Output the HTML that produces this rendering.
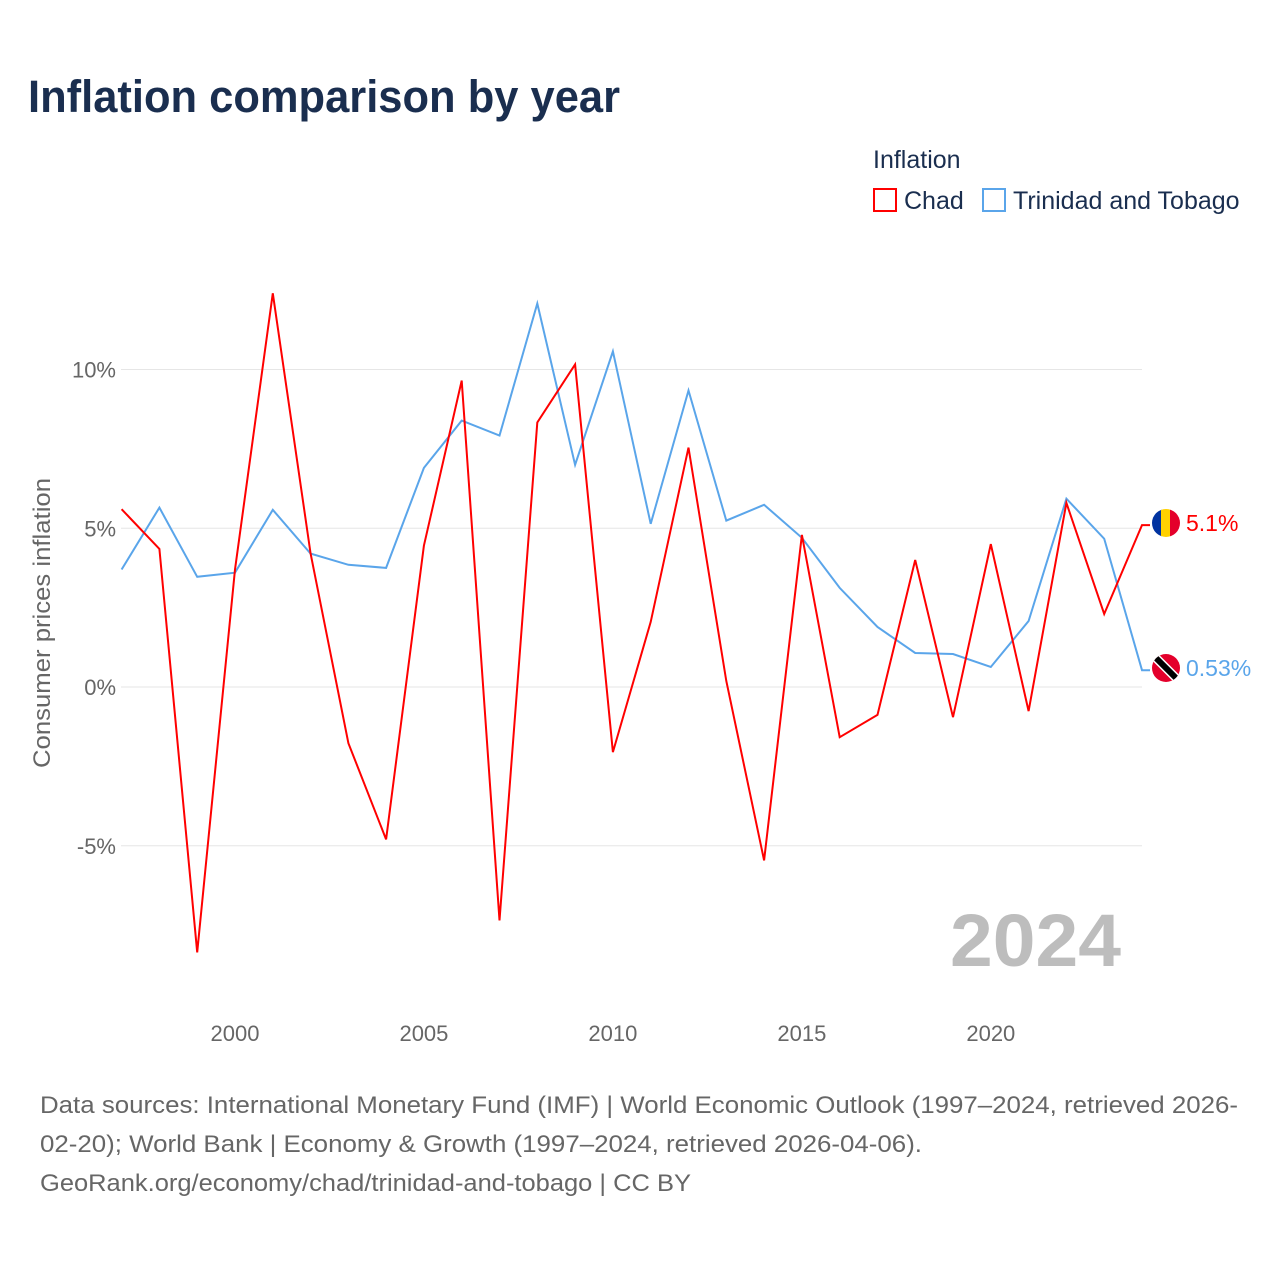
<!DOCTYPE html>
<html><head><meta charset="utf-8"><style>
body{margin:0;background:#fff;font-family:"Liberation Sans",sans-serif;}
svg text{font-family:"Liberation Sans",sans-serif;}
</style></head><body>
<svg width="1280" height="1280" viewBox="0 0 1280 1280" id="chart">
<rect width="1280" height="1280" fill="#fff"/>
<text x="28" y="112" font-size="45" font-weight="bold" fill="#1a2e4f" textLength="592" lengthAdjust="spacingAndGlyphs">Inflation comparison by year</text>
<g>
<text x="873" y="168" font-size="25" fill="#1a2e4f">Inflation</text>
<g><rect x="874" y="189" width="22" height="22" fill="none" stroke="#f00" stroke-width="2"/><text x="904" y="209" font-size="25" fill="#1a2e4f">Chad</text></g>
<g><rect x="983" y="189" width="22" height="22" fill="none" stroke="#5aa5ea" stroke-width="2"/><text x="1013" y="209" font-size="25" fill="#1a2e4f">Trinidad and Tobago</text></g>
</g>
<g id="grid"></g><g id="xt"></g>
<text x="1121" y="966" font-size="74" font-weight="bold" fill="#bdbdbd" text-anchor="end" textLength="171" lengthAdjust="spacingAndGlyphs">2024</text>
<text transform="translate(50,623) rotate(-90)" font-size="24" fill="#666" text-anchor="middle" textLength="290" lengthAdjust="spacingAndGlyphs">Consumer prices inflation</text>
<g id="lines"></g>
<g>
<clipPath id="c1"><circle cx="1166" cy="523" r="14"/></clipPath>
<g clip-path="url(#c1)"><rect x="1152" y="509" width="10" height="28" fill="#0033a0"/><rect x="1161" y="509" width="10" height="28" fill="#ffd100"/><rect x="1170" y="509" width="10" height="28" fill="#e4002b"/></g></g>
<g>
<clipPath id="c2"><circle cx="1166" cy="668" r="14"/></clipPath>
<g clip-path="url(#c2)"><rect x="1152" y="654" width="28" height="28" fill="#e4002b"/><line x1="1154" y1="656" x2="1178" y2="680" stroke="#fff" stroke-width="9"/><line x1="1154" y1="656" x2="1178" y2="680" stroke="#000" stroke-width="6"/></g></g>
<text x="1186" y="531" font-size="23" fill="#f00">5.1%</text>
<text x="1186" y="676" font-size="23" fill="#5aa5ea">0.53%</text>
<g font-size="24" fill="#666">
<text x="40" y="1113" textLength="1198" lengthAdjust="spacingAndGlyphs">Data sources: International Monetary Fund (IMF) | World Economic Outlook (1997–2024, retrieved 2026-</text>
<text x="40" y="1152" textLength="882" lengthAdjust="spacingAndGlyphs">02-20); World Bank | Economy &amp; Growth (1997–2024, retrieved 2026-04-06).</text>
<text x="40" y="1191" textLength="651" lengthAdjust="spacingAndGlyphs">GeoRank.org/economy/chad/trinidad-and-tobago | CC BY</text>
</g>
</svg>
<script>
const years=[1997,1998,1999,2000,2001,2002,2003,2004,2005,2006,2007,2008,2009,2010,2011,2012,2013,2014,2015,2016,2017,2018,2019,2020,2021,2022,2023,2024];
const chad=[5.6,4.35,-8.36,3.7,12.4,4.2,-1.77,-4.8,4.45,9.65,-7.35,8.33,10.16,-2.05,2.05,7.54,0.19,-5.46,4.79,-1.58,-0.88,4.0,-0.95,4.5,-0.76,5.8,2.3,5.1];
const tt=[3.7,5.65,3.47,3.6,5.58,4.2,3.85,3.75,6.9,8.39,7.92,12.08,7.0,10.57,5.14,9.34,5.24,5.74,4.7,3.12,1.89,1.07,1.04,0.63,2.08,5.93,4.67,0.53];
const yTicks=[10,5,0,-5];
const yTickLabels=["10%","5%","0%","-5%"];
const xTicks=[2000,2005,2010,2015,2020];
const NS="http://www.w3.org/2000/svg";
function xs(y){return 121.6+(y-1997)*(1142-121.6)/27;}
function ys(v){return 687-v*31.75;}
const grid=document.getElementById('grid');
yTicks.forEach((t,i)=>{
const l=document.createElementNS(NS,'line');


l.setAttribute('x1',121);l.setAttribute('x2',1142);l.setAttribute('y1',ys(t));l.setAttribute('y2',ys(t));
l.setAttribute('stroke','#e6e6e6');l.setAttribute('stroke-width','1');grid.appendChild(l);
const tx=document.createElementNS(NS,'text');


tx.setAttribute('x',116);tx.setAttribute('y',ys(t)+8);tx.setAttribute('text-anchor','end');
tx.setAttribute('font-size','22');tx.setAttribute('fill','#666');tx.textContent=yTickLabels[i];grid.appendChild(tx);
});
const xt=document.getElementById('xt');
xTicks.forEach(t=>{
const tx=document.createElementNS(NS,'text');


tx.setAttribute('x',xs(t));tx.setAttribute('y',1041);tx.setAttribute('text-anchor','middle');
tx.setAttribute('font-size','22');tx.setAttribute('fill','#666');tx.textContent=t;xt.appendChild(tx);
});
const lines=document.getElementById('lines');
function draw(arr,color,name){
const p=document.createElementNS(NS,'path');


let d=arr.map((v,i)=>(i?'L':'M')+xs(years[i]).toFixed(1)+','+ys(v).toFixed(1)).join(' ');
d+=' L'+(xs(years[years.length-1])+8)+','+ys(arr[arr.length-1]).toFixed(1);
p.setAttribute('d',d);p.setAttribute('fill','none');p.setAttribute('stroke',color);p.setAttribute('stroke-width','2');
lines.appendChild(p);
}
draw(tt,'#5aa5ea','trinidad-line');
draw(chad,'#f00','chad-line');
</script>
</body></html>
